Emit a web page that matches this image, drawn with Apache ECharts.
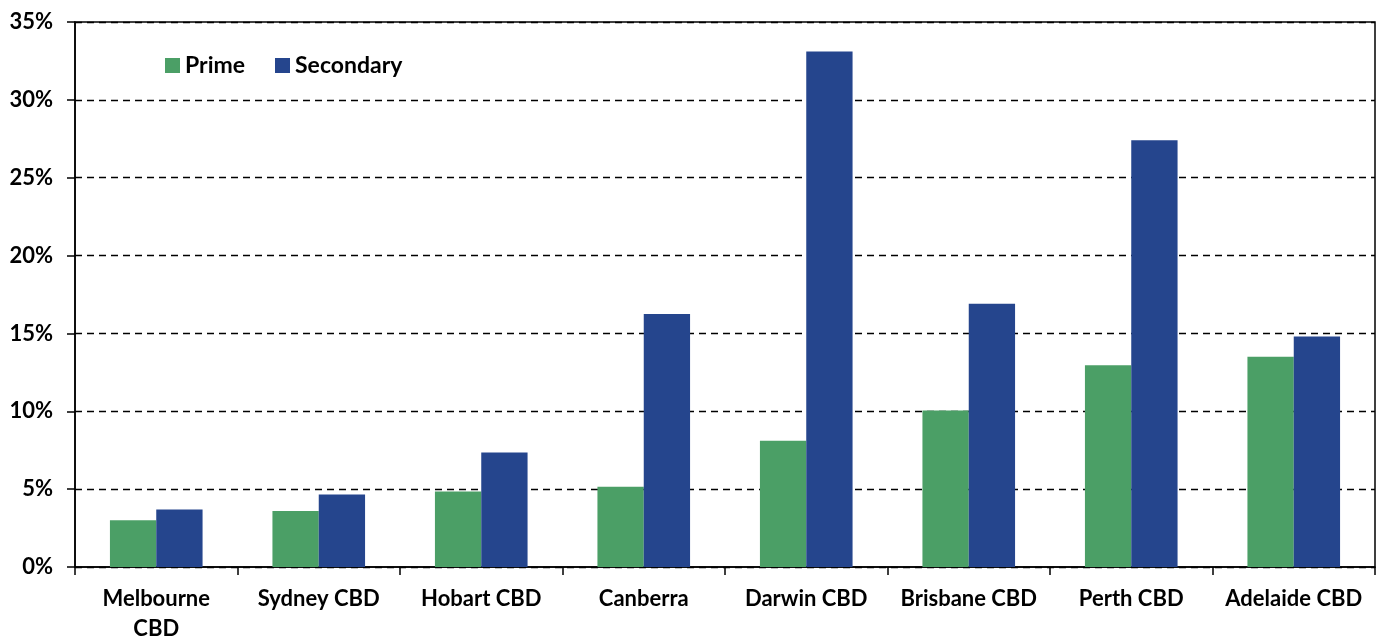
<!DOCTYPE html>
<html>
<head>
<meta charset="utf-8">
<script src="https://cdn.jsdelivr.net/npm/echarts@6/dist/echarts.min.js"></script>
<style>html,body{margin:0;padding:0;background:#fff;}#c{width:1382px;height:644px;}</style>
</head>
<body>
<div id="c"></div>
<script>
const categories = ['Melbourne\nCBD','Sydney CBD','Hobart CBD','Canberra','Darwin CBD','Brisbane CBD','Perth CBD','Adelaide CBD'];
const prime = [3.0, 3.6, 4.85, 5.15, 8.1, 10.05, 12.95, 13.5];
const secondary = [3.7, 4.65, 7.35, 16.25, 33.1, 16.9, 27.4, 14.8];
const yTicks = [0, 5, 10, 15, 20, 25, 30, 35];

const font = 'Lato, "Open Sans", sans-serif';
const chart = echarts.init(document.getElementById('c'), null, {renderer: 'canvas'});
chart.setOption({
  animation: false,
  backgroundColor: '#fff',
  textStyle: {fontFamily: font},
  grid: {left: 75, right: 7, top: 22, bottom: 69, show: true, borderColor: '#000', borderWidth: 1.5, backgroundColor: 'transparent'},
  legend: {
    left: 160, top: 49, itemWidth: 15, itemHeight: 15, itemGap: 30, icon: 'rect',
    textStyle: {fontSize: 23, fontWeight: 'bold', color: '#000', fontFamily: font},
    data: ['Prime', 'Secondary']
  },
  xAxis: {
    type: 'category', data: categories,
    axisLine: {lineStyle: {color: '#000', width: 1.5}},
    axisTick: {show: true, length: 8, interval: 0, lineStyle: {color: '#000', width: 1.5}},
    axisLabel: {interval: 0, margin: 17, lineHeight: 30, fontSize: 22, fontWeight: 'bold', color: '#000', fontFamily: font}
  },
  yAxis: {
    type: 'value', min: yTicks[0], max: yTicks[yTicks.length-1], interval: 5,
    axisLine: {show: true, lineStyle: {color: '#000', width: 1.5}},
    axisTick: {show: true, length: 8, lineStyle: {color: '#000', width: 1.5}},
    axisLabel: {margin: 22, fontSize: 22, fontWeight: 'bold', color: '#000', fontFamily: font, formatter: v => v + '%'},
    splitLine: {show: true, lineStyle: {color: '#000', type: [7, 5], width: 1.4}}
  },
  series: [
    {name: 'Prime', type: 'bar', data: prime, barGap: '0%', barCategoryGap: '43%', itemStyle: {color: '#4B9F66'}},
    {name: 'Secondary', type: 'bar', data: secondary, barGap: '0%', barCategoryGap: '43%', itemStyle: {color: '#25458D'}}
  ]
});
</script>
</body>
</html>
